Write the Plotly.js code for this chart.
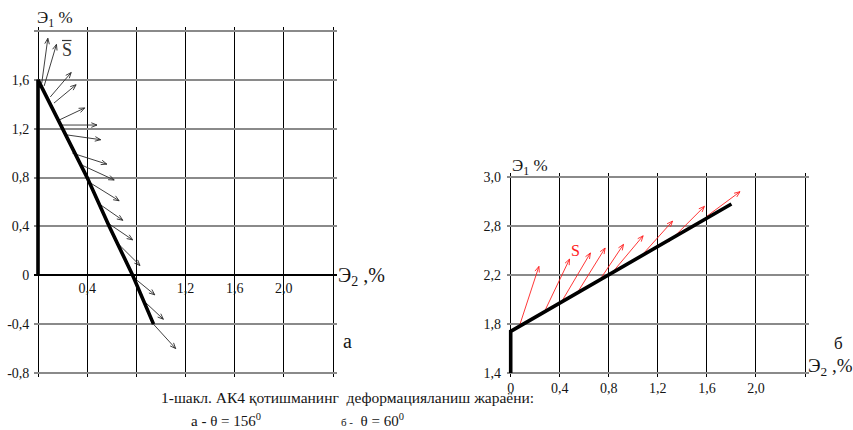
<!DOCTYPE html>
<html>
<head>
<meta charset="utf-8">
<script src="https://cdn.plot.ly/plotly-3.0.1.min.js"></script>
<style>
  html, body { margin: 0; padding: 0; background: #fff; }
  #chart { width: 853px; height: 430px; }
</style>
</head>
<body>
<div id="chart"></div>
<script>
// ---- Panel a (θ = 156°): strain path ε1 vs ε2, %
const pathA_e2 = [0, 0, 0.40, 0.58, 0.77, 0.94];
const pathA_e1 = [0, 1.60, 0.80, 0.40, 0.00, -0.40];

// Vectors S̄ along path a: tail (e2, e1) -> tip (e2, e1)
const vecA_e2_from = [0.03, 0.05, 0.10, 0.13, 0.17, 0.19, 0.23, 0.28, 0.34, 0.42, 0.49, 0.55, 0.62, 0.78, 0.85, 0.93];
const vecA_e1_from = [1.57, 1.55, 1.46, 1.41, 1.27, 1.23, 1.15, 1.00, 0.91, 0.76, 0.59, 0.44, 0.29, -0.02, -0.20, -0.39];
const vecA_e2_to   = [0.08, 0.15, 0.27, 0.31, 0.38, 0.48, 0.51, 0.56, 0.62, 0.66, 0.69, 0.77, 0.83, 0.95, 1.02, 1.12];
const vecA_e1_to   = [1.94, 1.89, 1.66, 1.56, 1.37, 1.23, 1.11, 0.91, 0.78, 0.61, 0.45, 0.29, 0.08, -0.16, -0.36, -0.60];

const tickA_x = [0, 0.4, 0.8, 1.2, 1.6, 2.0, 2.4];
const tickA_xText = ["", "0,4", "", "1,2", "1,6", "2,0", ""];
const tickA_y = [-0.8, -0.4, 0, 0.4, 0.8, 1.2, 1.6, 2.0];
const tickA_yText = ["-0,8", "-0,4", "0", "0,4", "0,8", "1,2", "1,6", ""];

// ---- Panel б (θ = 60°)
const pathB_e2 = [0, 0, 1.80];
const pathB_e1 = [1.40, 1.74, 2.78];

const vecB_e2_from = [0.07, 0.27, 0.42, 0.54, 0.72, 0.82, 1.06, 1.29, 1.60];
const vecB_e1_from = [1.78, 1.89, 1.99, 2.05, 2.15, 2.21, 2.35, 2.47, 2.68];
const vecB_e2_to   = [0.23, 0.48, 0.65, 0.77, 0.92, 1.08, 1.32, 1.58, 1.87];
const vecB_e1_to   = [2.27, 2.33, 2.38, 2.42, 2.45, 2.52, 2.64, 2.76, 2.88];

const tickB_x = [0, 0.4, 0.8, 1.2, 1.6, 2.0, 2.4];
const tickB_xText = ["0", "0,4", "0,8", "1,2", "1,6", "2,0", ""];
const tickB_y = [1.4, 1.8, 2.2, 2.6, 3.0];
const tickB_yText = ["1,4", "1,8", "2,2", "2,8", "3,0"];

// ---- helpers
const W = 853, H = 430;
const FONT = "'Liberation Serif', 'Times New Roman', Times, serif";
const INK = "#151515";

// Shaft + open V head for every vector, as one polyline with gaps
function arrowPaths(x0s, y0s, x1s, y1s, L, angDeg) {
  const xs = [], ys = [];
  const a = angDeg * Math.PI / 180;
  for (let i = 0; i < x0s.length; i++) {
    const dx = x1s[i] - x0s[i], dy = y1s[i] - y0s[i];
    const n = Math.hypot(dx, dy), ux = dx / n, uy = dy / n;
    xs.push(x0s[i], x1s[i], null);
    ys.push(y0s[i], y1s[i], null);
    const c = Math.cos(a), s = Math.sin(a);
    const r1x = ux * c - uy * s, r1y = ux * s + uy * c;
    const r2x = ux * c + uy * s, r2y = -ux * s + uy * c;
    xs.push(x1s[i] - L * r1x, x1s[i], x1s[i] - L * r2x, null);
    ys.push(y1s[i] - L * r1y, y1s[i], y1s[i] - L * r2y, null);
  }
  return { xs, ys };
}

// Frame of a panel in pixels -> padded ranges and domains (so edge lines are not clipped)
function frame(x0px, x1px, xmin, xmax, ytopPx, ybotPx, ymin, ymax, pad) {
  const kx = (x1px - x0px) / (xmax - xmin);
  const ky = (ybotPx - ytopPx) / (ymax - ymin);
  return {
    xrange: [xmin - pad, xmax + pad],
    yrange: [ymin - pad, ymax + pad],
    xdomain: [(x0px - pad * kx) / W, (x1px + pad * kx) / W],
    ydomain: [1 - (ybotPx + pad * ky) / H, 1 - (ytopPx - pad * ky) / H]
  };
}

const PAD = 0.03;
const fA = frame(38, 333, 0, 2.4, 31, 373, -0.8, 2.0, PAD);
const fB = frame(510.7, 805, 0, 2.4, 177, 373, 1.4, 3.0, PAD);

// position (paper) of e1 = 0 inside panel a, for the e2 tick labels
const zeroPosA = fA.ydomain[0] + (0 - fA.yrange[0]) / (fA.yrange[1] - fA.yrange[0]) * (fA.ydomain[1] - fA.ydomain[0]);

const arrA = arrowPaths(vecA_e2_from, vecA_e1_from, vecA_e2_to, vecA_e1_to, 0.05, 22);
const arrB = arrowPaths(vecB_e2_from, vecB_e1_from, vecB_e2_to, vecB_e1_to, 0.05, 22);

const traces = [
  { x: arrA.xs, y: arrA.ys, xaxis: "x", yaxis: "y", mode: "lines",
    line: { color: "#2a2a2a", width: 0.9 }, hoverinfo: "skip", showlegend: false },
  { x: pathA_e2, y: pathA_e1, xaxis: "x", yaxis: "y", mode: "lines",
    line: { color: "#000", width: 3.6 }, hoverinfo: "skip", showlegend: false },
  { x: arrB.xs, y: arrB.ys, xaxis: "x2", yaxis: "y2", mode: "lines",
    line: { color: "#ff2020", width: 0.9 }, hoverinfo: "skip", showlegend: false },
  { x: pathB_e2, y: pathB_e1, xaxis: "x2", yaxis: "y2", mode: "lines",
    line: { color: "#000", width: 3.6 }, hoverinfo: "skip", showlegend: false }
];

const tickFont = { family: FONT, size: 14, color: INK };

const xCommon = {
  showgrid: true, gridcolor: "#000", gridwidth: 1,
  zeroline: false, showline: false, ticks: "", tickmode: "array",
  tickfont: tickFont, fixedrange: true
};
const yCommon = {
  showgrid: true, gridcolor: "#8a8a8a", gridwidth: 2,
  showline: false, ticks: "", tickmode: "array",
  tickfont: tickFont, fixedrange: true, ticklabelstandoff: 4
};

function px2paperX(v) { return v / W; }
function px2paperY(v) { return 1 - v / H; }
function label(text, xPx, yPx, size, opts) {
  return Object.assign({
    text: text, xref: "paper", yref: "paper",
    x: px2paperX(xPx), y: px2paperY(yPx),
    xanchor: "left", yanchor: "middle", showarrow: false,
    font: { family: FONT, size: size, color: INK }
  }, opts || {});
}

const annotations = [
  label("Э<sub>1</sub> %", 35, 19, 17),
  label("Э<sub>2</sub> ,%", 336, 276, 20),
  label("а", 347, 341, 20, { xanchor: "center" }),
  label("S", 66.7, 50, 18, { xanchor: "center", font: { family: FONT, size: 18, color: "#333" } }),

  label("Э<sub>1</sub> %", 510, 167, 17),
  label("S", 575, 250, 16, { xanchor: "center", font: { family: FONT, size: 16, color: "#ff2020" } }),
  label("б", 838, 343, 17, { xanchor: "center" }),
  label("Э<sub>2</sub> ,%", 806, 367, 19),

  label("1-шакл. АК4 қотишманинг\u00a0\u00a0деформацияланиш жараёни:", 159, 397, 15.5),
  label("а - θ = 156<sup>0</sup>", 189, 420, 15),
  label("<span style='font-size:11px'>б -</span>\u00a0\u00a0θ = 60<sup>0</sup>", 339, 420, 15)
];

// bar over the S̄ label of panel a
const shapes = [
  { type: "line", xref: "paper", yref: "paper",
    x0: px2paperX(62), x1: px2paperX(71.5), y0: px2paperY(40.5), y1: px2paperY(40.5),
    line: { color: "#333", width: 1.2 } }
];

const layout = {
  width: W, height: H,
  margin: { l: 0, r: 0, t: 0, b: 0, pad: 0 },
  paper_bgcolor: "#fff", plot_bgcolor: "rgba(0,0,0,0)",
  showlegend: false,
  font: { family: FONT, color: INK },
  xaxis: Object.assign({}, xCommon, {
    domain: fA.xdomain, range: fA.xrange,
    tickvals: tickA_x, ticktext: tickA_xText,
    anchor: "free", position: zeroPosA, ticklabelstandoff: 3
  }),
  yaxis: Object.assign({}, yCommon, {
    domain: fA.ydomain, range: fA.yrange, anchor: "x",
    tickvals: tickA_y, ticktext: tickA_yText,
    zeroline: true, zerolinecolor: "#000", zerolinewidth: 2.2
  }),
  xaxis2: Object.assign({}, xCommon, {
    domain: fB.xdomain, range: fB.xrange, anchor: "y2",
    tickvals: tickB_x, ticktext: tickB_xText, ticklabelstandoff: 1
  }),
  yaxis2: Object.assign({}, yCommon, {
    domain: fB.ydomain, range: fB.yrange, anchor: "x2",
    tickvals: tickB_y, ticktext: tickB_yText, zeroline: false, ticklabelstandoff: 5
  }),
  annotations: annotations,
  shapes: shapes
};

Plotly.newPlot("chart", traces, layout, { staticPlot: true, displayModeBar: false });
</script>
</body>
</html>
